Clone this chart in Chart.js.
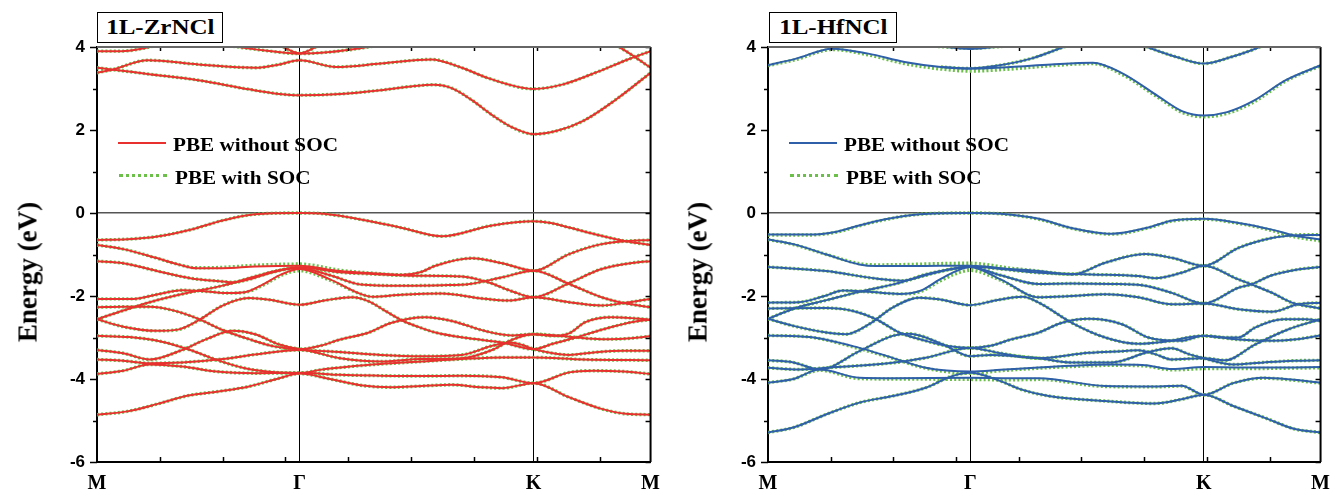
<!DOCTYPE html>
<html><head><meta charset="utf-8">
<script src="https://cdn.jsdelivr.net/npm/chart.js@4.4.1/dist/chart.umd.min.js"></script>
<style>
body{margin:0;background:#fff;}
#wrap{position:relative;width:1340px;height:497px;overflow:hidden;background:#fff;}
.pane{position:absolute;top:0;width:670px;height:497px;}
.tbox{position:absolute;top:12px;height:31px;border:1.5px solid #000;background:#fff;display:flex;align-items:center;justify-content:center;box-sizing:border-box;}
.tbox span{font:bold 20px "Liberation Serif",serif;display:inline-block;transform:scaleX(1.25);}
.lg{position:absolute;font:bold 19px "Liberation Serif",serif;line-height:1;white-space:nowrap;transform-origin:left center;transform:translateY(-50%) scaleX(1.116);}
.ln{position:absolute;width:48px;height:0;}
.yt{position:absolute;font:bold 27px "Liberation Serif",serif;line-height:1;white-space:nowrap;transform:translate(-50%,-50%) rotate(-90deg);}
</style></head>
<body>
<div id="wrap">
  <div class="pane" style="left:0"><canvas id="c1" width="670" height="497"></canvas></div>
  <div class="pane" style="left:670px"><canvas id="c2" width="670" height="497"></canvas></div>

  <div class="tbox" style="left:97px;width:126px"><span>1L-ZrNCl</span></div>
  <div class="tbox" style="left:769px;width:128px"><span>1L-HfNCl</span></div>

  <div class="ln" style="left:118px;top:142px;border-top:2px solid #e8302e"></div>
  <div class="lg" style="left:173px;top:144px">PBE without SOC</div>
  <div class="ln" style="left:119px;top:174px;border-top:3px dotted #6cc04a"></div>
  <div class="lg" style="left:175px;top:177px">PBE with SOC</div>

  <div class="ln" style="left:789px;top:142px;border-top:2px solid #2f5fa8"></div>
  <div class="lg" style="left:844px;top:144px">PBE without SOC</div>
  <div class="ln" style="left:790px;top:174px;border-top:3px dotted #6cc04a"></div>
  <div class="lg" style="left:846px;top:177px">PBE with SOC</div>

  <div class="yt" style="left:28px;top:272px">Energy (eV)</div>
  <div class="yt" style="left:698px;top:272px">Energy (eV)</div>
</div>
<script>
// ---- k-path (in units of |ΓM|) ----
const kTicks = [0, 1, 2.155, 2.732];
const kLabels = ['M', 'Γ', 'K', 'M'];
const kMinor = [0.31, 0.62, 0.93, 1.24, 1.55, 1.86, 2.17, 2.48];
const eMin = -6, eMax = 4;

// ---- 1L-ZrNCl bands [k, E(eV)] ----
const zrA = [[0,-0.65],[0.15,-0.63],[0.29,-0.57],[0.456,-0.41],[0.62,-0.18],[0.78,-0.03],[1,0],[1.12,-0.02],[1.36,-0.21],[1.506,-0.36],[1.7,-0.56],[1.95,-0.3],[2.155,-0.2],[2.24,-0.24],[2.33,-0.35],[2.49,-0.55],[2.61,-0.68],[2.732,-0.77]];
const zrB = [[0,-0.77],[0.13,-0.87],[0.29,-1.08],[0.41,-1.25],[0.49,-1.33],[0.62,-1.33],[0.78,-1.29],[1,-1.27],[1.2,-1.4],[1.36,-1.45],[1.506,-1.49],[1.6,-1.42],[1.67,-1.27],[1.85,-1.09],[2.0,-1.21],[2.155,-1.39],[2.33,-0.99],[2.49,-0.75],[2.61,-0.68],[2.732,-0.65]];
const zrC = [[0,-1.16],[0.13,-1.21],[0.29,-1.39],[0.46,-1.57],[0.62,-1.65],[0.67,-1.67],[0.75,-1.6],[0.85,-1.45],[1,-1.31],[1.2,-1.43],[1.36,-1.47],[1.55,-1.51],[1.8,-1.53],[1.93,-1.67],[2.05,-1.89],[2.155,-2.03],[2.33,-1.69],[2.49,-1.35],[2.66,-1.19],[2.732,-1.16]];
const zrD = [[0,-2.07],[0.18,-2.07],[0.29,-1.97],[0.42,-1.86],[0.54,-1.89],[0.65,-1.93],[0.73,-1.91],[0.82,-1.72],[0.91,-1.48],[1,-1.35],[1.15,-1.6],[1.3,-1.95],[1.36,-2.02],[1.5,-1.97],[1.7,-1.94],[1.9,-2.06],[2.03,-2.11],[2.155,-2.03],[2.33,-2.15],[2.49,-2.23],[2.6,-2.17],[2.732,-2.07]];
const zrF = [[0,-2.56],[0.13,-2.35],[0.29,-2.11],[0.46,-1.91],[0.62,-1.75],[0.78,-1.53],[0.91,-1.37],[1,-1.33],[1.15,-1.5],[1.3,-1.72],[1.5,-1.75],[1.7,-1.74],[1.84,-1.71],[2.0,-1.55],[2.155,-1.39],[2.33,-1.71],[2.49,-2.03],[2.6,-2.17],[2.732,-2.27]];
const zrG = [[0,-2.56],[0.13,-2.74],[0.29,-2.84],[0.4,-2.81],[0.5,-2.59],[0.62,-2.23],[0.75,-2.05],[0.85,-2.09],[1,-2.21],[1.13,-2.1],[1.26,-2.03],[1.342,-2.13],[1.42,-2.35],[1.506,-2.59],[1.6,-2.77],[1.67,-2.88],[1.836,-3.02],[2.0,-3.12],[2.155,-3.28],[2.25,-3.15],[2.35,-3.02],[2.5,-2.8],[2.65,-2.62],[2.732,-2.57]];
const zrE = [[0,-2.27],[0.13,-2.26],[0.26,-2.26],[0.37,-2.34],[0.5,-2.55],[0.62,-2.82],[0.75,-3.04],[0.88,-3.22],[1,-3.28],[1.1,-3.2],[1.2,-3.05],[1.342,-2.88],[1.45,-2.65],[1.62,-2.51],[1.75,-2.6],[1.92,-2.85],[2.05,-2.95],[2.155,-2.92],[2.25,-2.96],[2.33,-2.9],[2.41,-2.63],[2.54,-2.51],[2.66,-2.54],[2.732,-2.57]];
const zrI = [[0,-3.3],[0.13,-3.38],[0.26,-3.53],[0.41,-3.32],[0.54,-3.04],[0.67,-2.84],[0.78,-2.92],[0.9,-3.17],[1,-3.28],[1.2,-3.35],[1.4,-3.42],[1.6,-3.45],[1.8,-3.42],[1.95,-3.2],[2.04,-3.12],[2.1,-3.18],[2.155,-3.28],[2.25,-3.38],[2.33,-3.42],[2.45,-3.36],[2.6,-3.32],[2.732,-3.32]];
const zrJ = [[0,-3.53],[0.13,-3.56],[0.26,-3.62],[0.42,-3.6],[0.62,-3.52],[0.78,-3.41],[1,-3.3],[1.2,-3.5],[1.4,-3.58],[1.6,-3.52],[1.8,-3.5],[1.95,-3.3],[2.05,-3.05],[2.155,-2.92],[2.33,-2.98],[2.49,-3.04],[2.6,-3.03],[2.732,-2.97]];
const zrH = [[0,-2.96],[0.16,-2.99],[0.32,-3.1],[0.46,-3.3],[0.59,-3.54],[0.73,-3.74],[0.88,-3.84],[1,-3.86],[1.1,-3.78],[1.25,-3.7],[1.4,-3.64],[1.6,-3.58],[1.8,-3.52],[2.0,-3.48],[2.155,-3.48],[2.4,-3.53],[2.732,-3.55]];
const zrK = [[0,-3.88],[0.13,-3.8],[0.26,-3.65],[0.42,-3.7],[0.59,-3.82],[0.78,-3.86],[1,-3.85],[1.2,-3.9],[1.4,-3.92],[1.6,-3.93],[1.8,-3.92],[2.0,-3.96],[2.155,-4.1],[2.33,-3.84],[2.45,-3.8],[2.6,-3.82],[2.732,-3.88]];
const zrL = [[0,-4.86],[0.15,-4.78],[0.3,-4.6],[0.45,-4.4],[0.6,-4.3],[0.75,-4.18],[0.9,-3.98],[1,-3.87],[1.15,-4.0],[1.3,-4.15],[1.45,-4.2],[1.6,-4.17],[1.75,-4.14],[1.9,-4.2],[2.0,-4.22],[2.155,-4.1],[2.33,-4.44],[2.49,-4.72],[2.61,-4.84],[2.732,-4.86]];
const zrC1 = [[0,3.5],[0.07,3.46],[0.25,3.35],[0.5,3.2],[0.75,2.98],[0.9,2.87],[1,2.84],[1.2,2.87],[1.4,2.96],[1.55,3.05],[1.66,3.09],[1.75,3.01],[1.85,2.72],[1.95,2.36],[2.05,2.06],[2.155,1.9],[2.27,1.98],[2.4,2.22],[2.56,2.73],[2.732,3.38]];
const zrC2 = [[0,3.38],[0.08,3.46],[0.25,3.68],[0.5,3.58],[0.78,3.5],[0.9,3.58],[1,3.68],[1.18,3.52],[1.4,3.6],[1.65,3.7],[1.8,3.5],[1.93,3.25],[2.155,2.99],[2.3,3.1],[2.47,3.4],[2.62,3.7],[2.732,3.9]];
const zrC3 = [[0,3.9],[0.12,3.9],[0.22,3.96],[0.3,4.05]];
const zrC4 = [[0.65,4.03],[0.82,3.92],[1,3.84],[1.15,3.88],[1.3,3.97],[1.4,4.05]];
const zrC5 = [[0.9,4.05],[1,3.85],[1.1,4.05]];
const zrC6 = [[2.56,4.05],[2.63,3.84],[2.732,3.5]];
// SOC (visibly different only near Γ)
const zrSocB = [[0,-0.77],[0.13,-0.87],[0.29,-1.08],[0.41,-1.25],[0.49,-1.32],[0.62,-1.31],[0.78,-1.26],[1,-1.23],[1.2,-1.38],[1.36,-1.45],[1.506,-1.49],[1.6,-1.42],[1.67,-1.27],[1.85,-1.09],[2.0,-1.21],[2.155,-1.39],[2.33,-0.99],[2.49,-0.75],[2.61,-0.68],[2.732,-0.65]];
const zrSocD = [[0,-2.07],[0.18,-2.07],[0.29,-1.97],[0.42,-1.86],[0.54,-1.89],[0.65,-1.93],[0.73,-1.91],[0.82,-1.74],[0.91,-1.5],[1,-1.39],[1.15,-1.62],[1.3,-1.95],[1.36,-2.02],[1.5,-1.97],[1.7,-1.94],[1.9,-2.06],[2.03,-2.11],[2.155,-2.03],[2.33,-2.15],[2.49,-2.23],[2.6,-2.17],[2.732,-2.07]];

// ---- 1L-HfNCl bands [k, E(eV)] ----
const hfA = [[0,-0.52],[0.2,-0.52],[0.34,-0.45],[0.45,-0.3],[0.58,-0.15],[0.75,-0.03],[1,0],[1.15,-0.02],[1.339,-0.14],[1.5,-0.36],[1.7,-0.5],[1.88,-0.35],[2.0,-0.18],[2.155,-0.14],[2.326,-0.24],[2.491,-0.4],[2.6,-0.54],[2.732,-0.64]];
const hfB = [[0,-0.64],[0.125,-0.75],[0.289,-1.0],[0.452,-1.24],[0.534,-1.28],[0.7,-1.28],[0.85,-1.27],[1,-1.27],[1.2,-1.35],[1.339,-1.4],[1.503,-1.48],[1.667,-1.2],[1.864,-0.99],[1.996,-1.08],[2.155,-1.27],[2.326,-0.84],[2.491,-0.6],[2.6,-0.54],[2.732,-0.53]];
const hfC = [[0,-1.3],[0.289,-1.4],[0.534,-1.58],[0.666,-1.63],[0.78,-1.48],[0.944,-1.32],[1,-1.29],[1.15,-1.35],[1.339,-1.44],[1.6,-1.48],[1.831,-1.52],[1.913,-1.57],[2.045,-1.44],[2.155,-1.27],[2.326,-1.6],[2.39,-1.72],[2.491,-1.92],[2.59,-2.16],[2.732,-2.3]];
const hfD = [[0,-2.16],[0.15,-2.15],[0.28,-2.0],[0.37,-1.87],[0.5,-1.9],[0.65,-1.95],[0.75,-1.88],[0.85,-1.6],[0.93,-1.4],[1,-1.3],[1.15,-1.6],[1.339,-2.03],[1.5,-2.0],[1.667,-1.96],[1.831,-2.03],[1.996,-2.2],[2.155,-2.18],[2.326,-2.32],[2.491,-2.38],[2.62,-2.2],[2.732,-2.16]];
const hfF = [[0,-2.55],[0.13,-2.3],[0.29,-2.1],[0.45,-1.9],[0.62,-1.72],[0.78,-1.5],[0.91,-1.35],[1,-1.3],[1.15,-1.5],[1.339,-1.71],[1.5,-1.7],[1.7,-1.71],[1.85,-1.74],[2.0,-1.93],[2.155,-2.18],[2.326,-1.8],[2.39,-1.72],[2.491,-1.5],[2.62,-1.36],[2.732,-1.3]];
const hfG = [[0,-2.55],[0.125,-2.72],[0.289,-2.88],[0.387,-2.92],[0.5,-2.68],[0.616,-2.28],[0.747,-2.04],[0.846,-2.08],[1,-2.22],[1.13,-2.1],[1.26,-2.02],[1.339,-2.16],[1.5,-2.64],[1.667,-3.0],[1.83,-3.15],[1.96,-3.1],[2.155,-2.96],[2.326,-3.05],[2.491,-3.08],[2.6,-3.05],[2.732,-2.95]];
const hfE = [[0,-2.3],[0.289,-2.29],[0.42,-2.36],[0.534,-2.56],[0.649,-2.88],[0.78,-3.08],[0.88,-3.2],[1,-3.25],[1.1,-3.2],[1.2,-3.05],[1.339,-2.88],[1.45,-2.65],[1.585,-2.55],[1.75,-2.68],[1.88,-3.0],[2.04,-3.08],[2.155,-2.96],[2.25,-3.0],[2.326,-3.0],[2.408,-2.76],[2.55,-2.56],[2.657,-2.56],[2.732,-2.6]];
const hfI = [[0,-3.55],[0.125,-3.6],[0.256,-3.77],[0.452,-3.33],[0.616,-2.96],[0.698,-2.91],[0.862,-3.16],[1,-3.45],[1.1,-3.42],[1.339,-3.5],[1.5,-3.6],[1.7,-3.6],[1.88,-3.35],[1.996,-3.26],[2.08,-3.4],[2.155,-3.5],[2.3,-3.65],[2.45,-3.6],[2.6,-3.56],[2.732,-3.55]];
const hfJ = [[0,-3.73],[0.15,-3.77],[0.29,-3.73],[0.616,-3.61],[0.78,-3.49],[1,-3.25],[1.15,-3.38],[1.339,-3.5],[1.585,-3.37],[1.75,-3.33],[1.831,-3.31],[1.913,-3.4],[1.996,-3.53],[2.155,-3.5],[2.26,-3.55],[2.408,-3.17],[2.574,-2.8],[2.732,-2.56]];
const hfH = [[0,-2.95],[0.207,-2.99],[0.452,-3.25],[0.616,-3.49],[0.78,-3.73],[1,-3.82],[1.15,-3.78],[1.339,-3.72],[1.5,-3.68],[1.7,-3.65],[1.85,-3.66],[2.0,-3.76],[2.155,-3.71],[2.35,-3.72],[2.55,-3.72],[2.732,-3.71]];
const hfK = [[0,-4.09],[0.125,-4.0],[0.256,-3.77],[0.452,-3.97],[0.616,-3.98],[1,-3.97],[1.2,-3.98],[1.339,-3.98],[1.667,-4.17],[1.913,-4.18],[2.045,-4.16],[2.155,-4.38],[2.3,-4.1],[2.45,-3.97],[2.6,-4.02],[2.732,-4.09]];
const hfL = [[0,-5.29],[0.125,-5.17],[0.289,-4.85],[0.452,-4.57],[0.616,-4.41],[0.78,-4.21],[0.91,-3.93],[1,-3.85],[1.15,-4.05],[1.25,-4.25],[1.388,-4.41],[1.667,-4.53],[1.913,-4.59],[2.045,-4.49],[2.155,-4.38],[2.3,-4.65],[2.47,-4.96],[2.6,-5.2],[2.732,-5.29]];
const hfC1 = [[0,3.56],[0.139,3.72],[0.318,3.96],[0.496,3.84],[0.675,3.64],[0.854,3.52],[1,3.48],[1.2,3.52],[1.4,3.58],[1.606,3.62],[1.75,3.37],[1.93,2.81],[2.05,2.45],[2.155,2.35],[2.27,2.43],[2.4,2.7],[2.56,3.2],[2.732,3.56]];
const hfC2 = [[0.854,3.52],[1,3.48],[1.122,3.54],[1.3,3.72],[1.463,4.0],[1.5,4.06]];
const hfC3 = [[0.82,4.03],[1,3.95],[1.18,4.03]];
const hfC4 = [[1.85,4.05],[1.875,4.0],[2.019,3.76],[2.155,3.6],[2.29,3.76],[2.43,4.0],[2.45,4.05]];
// SOC bands that differ visibly from the non-SOC ones
const hfSocC1 = [[0,3.55],[0.139,3.7],[0.318,3.94],[0.496,3.81],[0.675,3.6],[0.854,3.47],[1,3.42],[1.2,3.47],[1.4,3.55],[1.606,3.6],[1.75,3.34],[1.93,2.78],[2.05,2.42],[2.155,2.32],[2.27,2.4],[2.4,2.67],[2.56,3.18],[2.732,3.55]];
const hfSocC3 = [[0.82,4.02],[1,3.97],[1.18,4.02]];
const hfSocB = [[0,-0.64],[0.125,-0.76],[0.289,-1.0],[0.452,-1.22],[0.534,-1.25],[0.7,-1.24],[0.85,-1.22],[1,-1.21],[1.2,-1.33],[1.339,-1.4],[1.503,-1.48],[1.667,-1.2],[1.864,-0.99],[1.996,-1.08],[2.155,-1.27],[2.326,-0.84],[2.491,-0.6],[2.6,-0.53],[2.732,-0.52]];
const hfSocD = [[0,-2.16],[0.15,-2.15],[0.28,-2.0],[0.37,-1.87],[0.5,-1.9],[0.65,-1.95],[0.75,-1.9],[0.85,-1.64],[0.93,-1.46],[1,-1.38],[1.15,-1.62],[1.339,-2.03],[1.5,-2.0],[1.667,-1.96],[1.831,-2.03],[1.996,-2.2],[2.155,-2.18],[2.326,-2.32],[2.491,-2.38],[2.62,-2.2],[2.732,-2.16]];
const hfSocK = [[0,-4.09],[0.125,-4.0],[0.256,-3.79],[0.452,-3.99],[0.616,-4.0],[1,-4.01],[1.2,-4.02],[1.339,-4.01],[1.667,-4.18],[1.913,-4.19],[2.045,-4.17],[2.155,-4.38],[2.3,-4.1],[2.45,-3.98],[2.6,-4.03],[2.732,-4.1]];
const hfSocH = [[0,-2.95],[0.207,-2.99],[0.452,-3.27],[0.616,-3.5],[0.78,-3.74],[1,-3.86],[1.15,-3.8],[1.339,-3.74],[1.5,-3.7],[1.7,-3.67],[1.85,-3.68],[2.0,-3.78],[2.155,-3.75],[2.35,-3.75],[2.55,-3.74],[2.732,-3.73]];
const hfSocA = [[0,-0.53],[0.2,-0.53],[0.34,-0.46],[0.45,-0.31],[0.58,-0.16],[0.75,-0.03],[1,0],[1.15,-0.02],[1.339,-0.15],[1.5,-0.37],[1.7,-0.51],[1.88,-0.36],[2.0,-0.19],[2.155,-0.15],[2.326,-0.25],[2.491,-0.42],[2.6,-0.57],[2.732,-0.67]];

const zrBands = [zrA, zrB, zrC, zrD, zrF, zrG, zrE, zrI, zrJ, zrH, zrK, zrL, zrC1, zrC2, zrC3, zrC4, zrC5, zrC6];
const zrSocBands = [zrA, zrSocB, zrC, zrSocD, zrF, zrG, zrE, zrI, zrJ, zrH, zrK, zrL, zrC1, zrC2, zrC3, zrC4, zrC5, zrC6];
const hfBands = [hfA, hfB, hfC, hfD, hfF, hfG, hfE, hfI, hfJ, hfH, hfK, hfL, hfC1, hfC2, hfC3, hfC4];
const hfSocBands = [hfSocA, hfSocB, hfC, hfSocD, hfF, hfG, hfE, hfI, hfJ, hfSocH, hfSocK, hfL, hfSocC1, hfC2, hfSocC3, hfC4];

const GREEN = '#6cc04a';

const framePlugin = {
  id: 'frame',
  afterDatasetsDraw(chart) {
    const {ctx, chartArea: a, scales} = chart;
    const ys = scales.y, xs = scales.x;
    ctx.save();
    ctx.strokeStyle = '#000';
    ctx.lineWidth = 1.5;
    for (let e = eMin; e <= eMax; e++) {
      const y = Math.round(ys.getPixelForValue(e)) + 0.5;
      const L = (e % 2 === 0) ? 7 : 4;
      ctx.beginPath(); ctx.moveTo(a.left - L, y); ctx.lineTo(a.left, y); ctx.stroke();
      ctx.beginPath(); ctx.moveTo(a.right, y); ctx.lineTo(a.right - 5, y); ctx.stroke();
    }
    kMinor.forEach(k => {
      const x = Math.round(xs.getPixelForValue(k)) + 0.5;
      ctx.beginPath(); ctx.moveTo(x, a.bottom); ctx.lineTo(x, a.bottom - 5); ctx.stroke();
      ctx.beginPath(); ctx.moveTo(x, a.top); ctx.lineTo(x, a.top + 4); ctx.stroke();
    });
    ctx.lineWidth = 2;
    ctx.beginPath(); ctx.moveTo(a.right, a.top); ctx.lineTo(a.right, a.bottom); ctx.stroke();
    ctx.strokeStyle = '#666';
    ctx.beginPath(); ctx.moveTo(a.left, a.top); ctx.lineTo(a.right, a.top); ctx.stroke();
    ctx.restore();
  }
};

function toXY(b) { return b.map(p => ({x: p[0], y: p[1]})); }

function makeChart(id, bands, socBands, color, leftW, rightPad) {
  const ds = [];
  bands.forEach(b => ds.push({data: toXY(b), borderColor: color, borderWidth: 2, order: 0}));
  socBands.forEach(b => ds.push({data: toXY(b), borderColor: GREEN, borderWidth: 3.4, borderDash: [2, 2.2], order: 1}));
  return new Chart(document.getElementById(id), {
    type: 'line',
    data: {datasets: ds},
    plugins: [framePlugin],
    options: {
      responsive: false,
      animation: false,
      devicePixelRatio: 1,
      layout: {padding: {left: 0, right: rightPad, top: 47, bottom: 0}},
      elements: {
        point: {radius: 0, hoverRadius: 0},
        line: {cubicInterpolationMode: 'monotone', fill: false, borderCapStyle: 'butt'}
      },
      plugins: {legend: {display: false}, tooltip: {enabled: false}},
      scales: {
        x: {
          type: 'linear', min: 0, max: 2.732,
          afterBuildTicks: s => { s.ticks = kTicks.map(v => ({value: v})); },
          afterFit: s => { s.height = 35; },
          ticks: {
            autoSkip: false, maxRotation: 0, padding: 10, color: '#000',
            font: {family: 'Liberation Serif', size: 20, weight: 'bold'},
            callback: (v, i) => kLabels[i]
          },
          grid: {
            drawTicks: false,
            lineWidth: 1,
            color: c => (c.index === 1 || c.index === 2) ? '#000' : 'rgba(0,0,0,0)'
          },
          border: {display: true, color: '#000', width: 2}
        },
        y: {
          type: 'linear', min: eMin, max: eMax,
          afterFit: s => { s.width = leftW; },
          ticks: {
            stepSize: 1, padding: 12, color: '#000',
            font: {family: 'Liberation Sans', size: 17, weight: 'bold'},
            callback: v => (v % 2 === 0 ? String(v) : '')
          },
          grid: {
            drawTicks: false,
            lineWidth: 1.5,
            color: c => (c.tick && c.tick.value === 0) ? '#555' : 'rgba(0,0,0,0)'
          },
          border: {display: true, color: '#000', width: 2}
        }
      }
    }
  });
}

makeChart('c1', zrBands, zrSocBands, '#e8302e', 97, 18);
makeChart('c2', hfBands, hfSocBands, '#2f5fa8', 98, 18);
</script>
</body></html>
